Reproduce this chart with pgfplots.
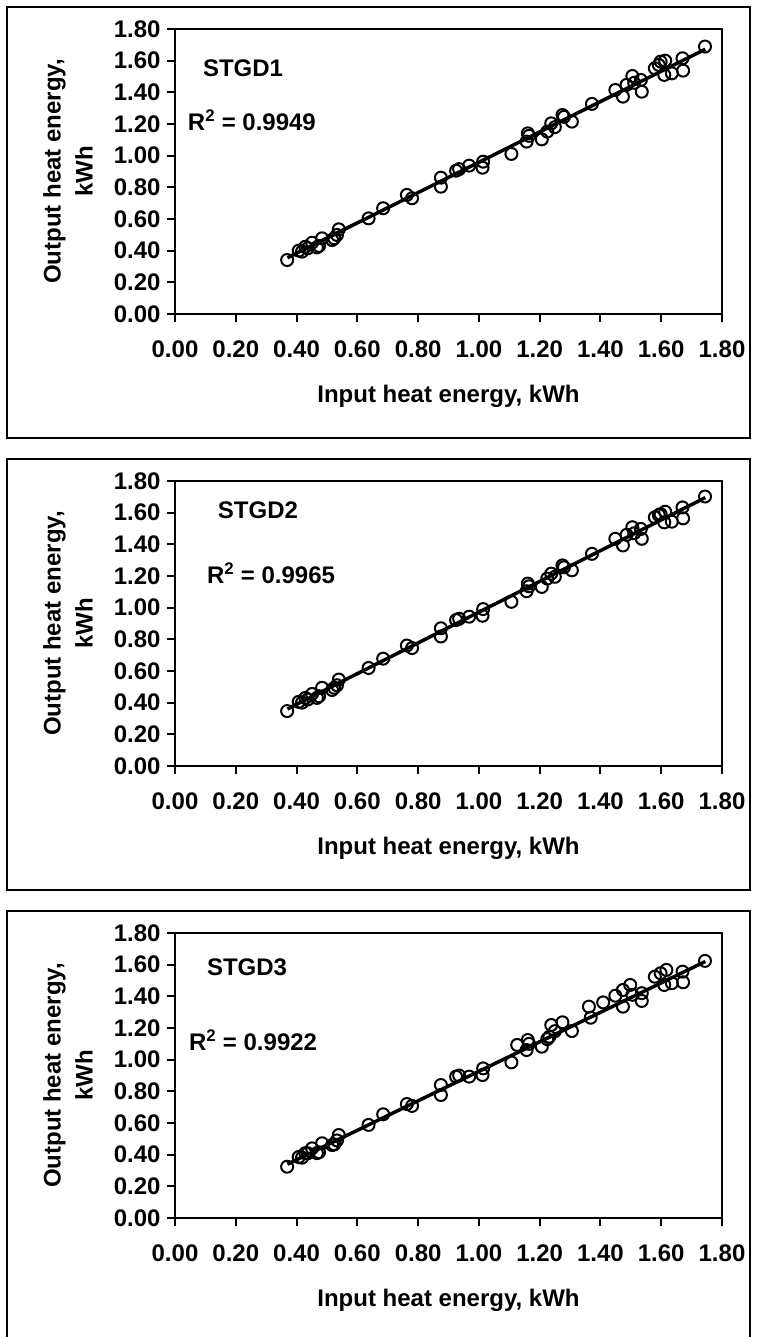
\documentclass[border=0pt]{standalone}
\usepackage{fontspec}
\setmainfont{Liberation Sans}
\usepackage{pgfplots}
\pgfplotsset{compat=1.18}

\newcommand{\lab}{\bfseries\fontsize{24}{32}\selectfont}

\pgfplotsset{
  panel/.style={
    scale only axis, width=547pt, height=285pt,
    anchor=south west,
    xmin=0, xmax=1.8, ymin=0, ymax=1.8,
    xtick={0,0.2,0.4,0.6,0.8,1,1.2,1.4,1.6,1.8},
    ytick={0,0.2,0.4,0.6,0.8,1,1.2,1.4,1.6,1.8},
    tick pos=left, tick align=outside,
    major tick length=8pt,
    tick style={black, line width=2pt},
    axis line style={line width=2pt},
    ticklabel style={font=\lab},
    xticklabel style={yshift=-15pt},
    yticklabel style={xshift=-3pt},
    /pgf/number format/fixed,
    /pgf/number format/fixed zerofill,
    /pgf/number format/precision=2,
    /pgf/number format/assume math mode=true,
    clip=false,
  },
  pts/.style={only marks, mark=o, mark size=6pt,
    mark options={line width=2pt, black}},
  fit/.style={black, line width=3.5pt},
}

\begin{document}
\begin{tikzpicture}
\useasboundingbox (0,0) rectangle (756pt,-1337pt);

% --- panel 1
\draw[line width=2pt] (7pt,-7pt) rectangle (750pt,-438pt);
\begin{axis}[panel, name=ax1, at={(175pt,-314pt)}]
\addplot[pts] table {
0.369 0.341
0.407 0.400
0.418 0.394
0.429 0.425
0.437 0.415
0.451 0.450
0.467 0.421
0.474 0.430
0.484 0.478
0.517 0.467
0.524 0.478
0.533 0.499
0.539 0.535
0.637 0.604
0.685 0.668
0.763 0.752
0.780 0.731
0.875 0.861
0.875 0.804
0.925 0.905
0.935 0.915
0.968 0.937
1.014 0.962
1.012 0.924
1.107 1.011
1.161 1.141
1.157 1.089
1.165 1.125
1.207 1.103
1.225 1.152
1.238 1.204
1.250 1.180
1.275 1.257
1.280 1.245
1.306 1.215
1.372 1.327
1.449 1.415
1.474 1.373
1.486 1.447
1.505 1.503
1.511 1.460
1.533 1.478
1.536 1.404
1.579 1.552
1.592 1.573
1.598 1.594
1.613 1.600
1.610 1.510
1.635 1.520
1.670 1.615
1.672 1.537
1.744 1.689
};
\addplot[fit] coordinates {(0.37,0.355) (1.745,1.672)};
\node[font=\lab] at (axis cs:0.224,1.554) {STGD1};
\node[font=\lab] at (axis cs:0.253,1.225) {R\textsuperscript{2} = 0.9949};
\end{axis}
\node[font=\lab, rotate=90, align=center] at ([xshift=-107pt]ax1.west) {Output heat energy,\\kWh};
\node[font=\lab, anchor=base] at ([yshift=-88pt]ax1.south) {Input heat energy, kWh};

% --- panel 2
\draw[line width=2pt] (7pt,-459pt) rectangle (750pt,-890pt);
\begin{axis}[panel, name=ax2, at={(175pt,-766pt)}]
\addplot[pts] table {
0.369 0.347
0.407 0.405
0.418 0.400
0.429 0.430
0.437 0.420
0.451 0.455
0.467 0.430
0.474 0.441
0.484 0.494
0.517 0.480
0.524 0.494
0.533 0.510
0.539 0.546
0.637 0.619
0.685 0.678
0.763 0.761
0.780 0.745
0.875 0.870
0.875 0.818
0.925 0.922
0.935 0.930
0.968 0.943
1.014 0.991
1.012 0.949
1.107 1.037
1.161 1.152
1.157 1.104
1.165 1.135
1.207 1.131
1.225 1.184
1.238 1.215
1.250 1.195
1.275 1.267
1.280 1.255
1.306 1.236
1.372 1.340
1.449 1.435
1.474 1.393
1.486 1.460
1.505 1.508
1.511 1.470
1.533 1.497
1.536 1.435
1.579 1.571
1.592 1.585
1.598 1.591
1.613 1.606
1.610 1.539
1.635 1.543
1.670 1.633
1.672 1.564
1.744 1.702
};
\addplot[fit] coordinates {(0.37,0.36) (1.745,1.695)};
\node[font=\lab] at (axis cs:0.273,1.617) {STGD2};
\node[font=\lab] at (axis cs:0.316,1.219) {R\textsuperscript{2} = 0.9965};
\end{axis}
\node[font=\lab, rotate=90, align=center] at ([xshift=-107pt]ax2.west) {Output heat energy,\\kWh};
\node[font=\lab, anchor=base] at ([yshift=-88pt]ax2.south) {Input heat energy, kWh};

% --- panel 3
\draw[line width=2pt] (7pt,-911pt) rectangle (750pt,-1342pt);
\begin{axis}[panel, name=ax3, at={(175pt,-1218pt)}]
\addplot[pts] table {
0.369 0.324
0.407 0.385
0.418 0.381
0.429 0.410
0.437 0.409
0.451 0.440
0.467 0.410
0.474 0.415
0.484 0.472
0.517 0.461
0.524 0.465
0.533 0.490
0.539 0.524
0.637 0.588
0.685 0.655
0.763 0.720
0.780 0.708
0.875 0.840
0.875 0.777
0.925 0.893
0.935 0.900
0.968 0.893
1.014 0.945
1.012 0.903
1.107 0.983
1.126 1.093
1.161 1.124
1.157 1.061
1.165 1.100
1.207 1.082
1.225 1.130
1.232 1.145
1.238 1.219
1.250 1.180
1.275 1.236
1.306 1.181
1.362 1.335
1.368 1.265
1.409 1.362
1.449 1.404
1.474 1.335
1.474 1.440
1.498 1.472
1.505 1.410
1.536 1.371
1.536 1.420
1.579 1.524
1.598 1.546
1.617 1.567
1.610 1.472
1.635 1.483
1.670 1.556
1.672 1.489
1.744 1.624
};
\addplot[fit] coordinates {(0.37,0.34) (1.745,1.62)};
\node[font=\lab] at (axis cs:0.237,1.582) {STGD3};
\node[font=\lab] at (axis cs:0.257,1.124) {R\textsuperscript{2} = 0.9922};
\end{axis}
\node[font=\lab, rotate=90, align=center] at ([xshift=-107pt]ax3.west) {Output heat energy,\\kWh};
\node[font=\lab, anchor=base] at ([yshift=-88pt]ax3.south) {Input heat energy, kWh};
\end{tikzpicture}
\end{document}
